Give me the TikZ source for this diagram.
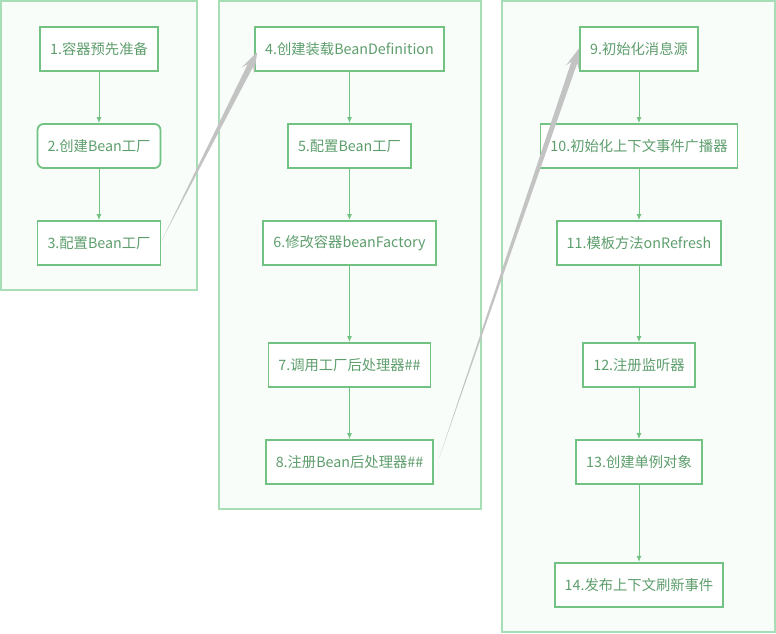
\documentclass[tikz,border=0pt]{standalone}
\usepackage{fontspec}
\setmainfont{Noto Sans CJK SC}
\usepackage{xcolor}
\usepackage{tikz}
\usetikzlibrary{arrows.meta,positioning,calc}
\definecolor{flowline}{HTML}{72C283}
\definecolor{flowtext}{HTML}{5E9E6D}
\definecolor{panelline}{HTML}{A8DEB6}
\definecolor{panelfill}{HTML}{F8FDF9}
\definecolor{jumpgray}{HTML}{C3C3C3}
% tapered gray arrow between two points
\newcommand{\graylink}[2]{%
    \coordinate (gl-h) at ($(#2)!15pt!(#1)$);
    \coordinate (gl-b) at ($(#2)!21pt!(#1)$);
    \fill[jumpgray] (#1) -- ($(gl-h)!3pt!90:(#2)$) -- ($(gl-b)!7pt!90:(#2)$) -- (#2)
        -- ($(gl-b)!7pt!-90:(#2)$) -- ($(gl-h)!3pt!-90:(#2)$) -- cycle;}

\begin{document}
\begin{tikzpicture}[x=1pt,y=-1pt,node distance=51.2pt, every node/.style={font=\fontsize{14.3}{16}\selectfont}]
    \tikzstyle{stepbox}=[draw=flowline,fill=white,line width=1.8pt,minimum height=44pt,inner xsep=10pt,text=flowtext]
    \tikzstyle{panel}=[draw=panelline,fill=panelfill,line width=1.6pt]
    \tikzstyle{flow}=[-{Latex[length=6pt,width=5pt]},flowline,line width=1pt]
    \useasboundingbox (0,0) rectangle (776,634);
    % three panels
    \draw[panel] (1,1) rectangle (197,290);
    \draw[panel] (219,1) rectangle (481,509);
    \draw[panel] (502,1) rectangle (775,632);
    % first column
    \node[stepbox] (prep) at (99,49) {1.容器预先准备};
    \node[stepbox,below=of prep,rounded corners=6pt] (create) {2.创建Bean工厂};
    \node[stepbox,below=of create] (config) {3.配置Bean工厂};
    % second column
    \node[stepbox] (load) at (349.5,49) {4.创建装载BeanDefinition};
    \node[stepbox,below=of load] (setup) {5.配置Bean工厂};
    \node[stepbox,below=of setup] (modify) {6.修改容器beanFactory};
    \node[stepbox,below=76.2pt of modify] (invoke) {7.调用工厂后处理器\#\#};
    \node[stepbox,below=of invoke] (register) {8.注册Bean后处理器\#\#};
    % third column
    \node[stepbox] (message) at (639,49) {9.初始化消息源};
    \node[stepbox,below=of message] (multicast) {10.初始化上下文事件广播器};
    \node[stepbox,below=of multicast] (refresh) {11.模板方法onRefresh};
    \node[stepbox,below=76.2pt of refresh] (listener) {12.注册监听器};
    \node[stepbox,below=of listener] (single) {13.创建单例对象};
    \node[stepbox,below=77pt of single] (finish) {14.发布上下文刷新事件};
    \draw[flow] (prep) -- (create);
    \draw[flow] (create) -- (config);
    \draw[flow] (load) -- (setup);
    \draw[flow] (setup) -- (modify);
    \draw[flow] (modify) -- (invoke);
    \draw[flow] (invoke) -- (register);
    \draw[flow] (message) -- (multicast);
    \draw[flow] (multicast) -- (refresh);
    \draw[flow] (refresh) -- (listener);
    \draw[flow] (listener) -- (single);
    \draw[flow] (single) -- (finish);
    % jumps between panels
    \coordinate (j1s) at ($(config.east)+(0,-2)$);
    \coordinate (j1t) at ($(load.west)+(3,3)$);
    \graylink{j1s}{j1t}
    \coordinate (j2s) at ($(register.east)+(5,-4)$);
    \coordinate (j2t) at ($(message.west)+(0,-1)$);
    \graylink{j2s}{j2t}
\end{tikzpicture}
\end{document}
